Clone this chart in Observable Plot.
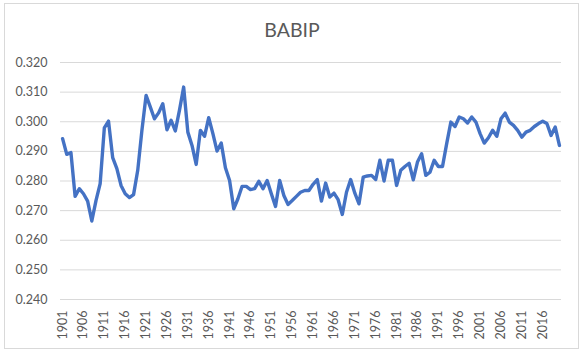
<!DOCTYPE html>
<html><head><meta charset="utf-8">
<script src="https://cdn.jsdelivr.net/npm/d3@7"></script>
<script src="https://cdn.jsdelivr.net/npm/@observablehq/plot@0.6"></script>
<style>
body{margin:0;background:#fff;}
#wrap{position:relative;width:584px;height:353px;overflow:hidden;font-family:Lato,sans-serif;background:#fff;}
#border{position:absolute;left:4px;top:3px;width:575px;height:346px;border:1px solid #d9d9d9;box-sizing:border-box;}
#title{position:absolute;left:0;width:584px;top:18px;text-align:center;font-size:19.5px;color:#595959;line-height:24px;}
#wrap svg{position:absolute;left:0;top:0;}
</style></head><body><div id="wrap"><div id="border"></div></div>
<script>
const years = d3.range(1901, 2021);
const babip = [
0.2943,0.2890,0.2896,0.2748,0.2774,0.2757,0.2732,0.2665,0.2734,0.2791,
0.2979,0.3002,0.2879,0.2842,0.2785,0.2757,0.2744,0.2754,0.2836,0.2971,
0.3089,0.3050,0.3010,0.3030,0.3061,0.2973,0.3005,0.2969,0.3039,0.3117,
0.2965,0.2920,0.2856,0.2971,0.2951,0.3014,0.2960,0.2901,0.2928,0.2845,
0.2802,0.2706,0.2740,0.2782,0.2782,0.2771,0.2774,0.2799,0.2774,0.2802,
0.2757,0.2714,0.2802,0.2751,0.2721,0.2734,0.2748,0.2762,0.2768,0.2768,
0.2789,0.2805,0.2732,0.2793,0.2746,0.2759,0.2737,0.2687,0.2762,0.2805,
0.2759,0.2723,0.2813,0.2817,0.2819,0.2805,0.2870,0.2800,0.2870,0.2870,
0.2785,0.2836,0.2849,0.2860,0.2804,0.2864,0.2892,0.2819,0.2830,0.2870,
0.2849,0.2849,0.2926,0.2999,0.2984,0.3016,0.3010,0.2996,0.3016,0.2999,
0.2960,0.2928,0.2946,0.2971,0.2951,0.3010,0.3029,0.2999,0.2988,0.2971,
0.2948,0.2965,0.2971,0.2984,0.2994,0.3002,0.2994,0.2954,0.2982,0.2920
];
const yTicks = [0.240,0.250,0.260,0.270,0.280,0.290,0.300,0.310,0.320];
const xTicks = [1901,1906,1911,1916,1921,1926,1931,1936,1941,1946,1951,1956,1961,1966,1971,1976,1981,1986,1991,1996,2001,2006,2011,2016];
const titleText = "BABIP";

const data = years.map((year, i) => ({year, value: babip[i]}));

const chart = Plot.plot({
  width: 584, height: 353,
  marginTop: 62, marginBottom: 54, marginLeft: 60, marginRight: 23,
  style: {fontFamily: "Lato, sans-serif", fontSize: "12.5px", color: "#595959", background: "transparent", overflow: "visible"},
  x: {type: "linear", domain: [1900.5, 2020.5]},
  y: {domain: [0.24, 0.32]},
  marks: [
    Plot.ruleY(yTicks, {stroke: "#d9d9d9", strokeWidth: 1}),
    Plot.axisY({ticks: yTicks, tickFormat: d3.format(".3f"), tickSize: 0, tickPadding: 13, label: null}),
    Plot.axisX({ticks: xTicks, tickFormat: d => String(d), tickRotate: -90, tickSize: 0, tickPadding: 11, label: null}),
    Plot.line(data, {x: "year", y: "value", stroke: "#4472C4", strokeWidth: 3.4, strokeLinejoin: "round", strokeLinecap: "round"})
  ]
});
const wrap = document.getElementById("wrap");
wrap.appendChild(chart);
const t = document.createElement("div");
t.id = "title";
t.textContent = titleText;
wrap.appendChild(t);
</script>
</body></html>
